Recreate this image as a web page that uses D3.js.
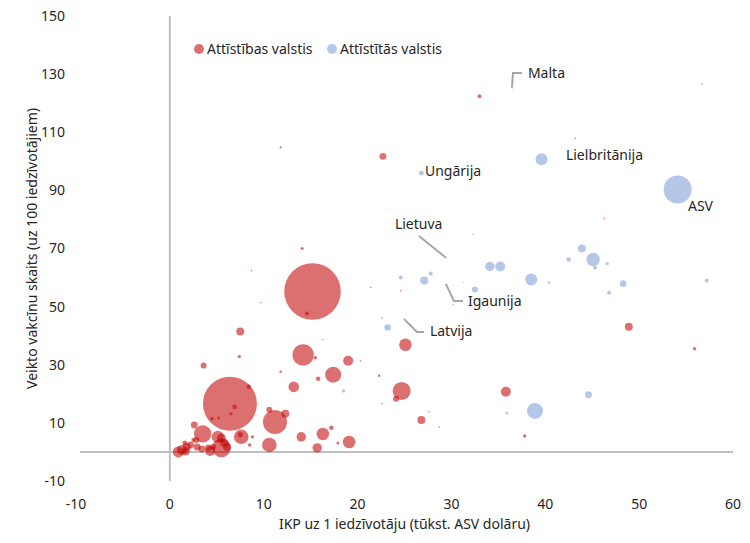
<!DOCTYPE html>
<html>
<head>
<meta charset="utf-8">
<script src="https://cdn.jsdelivr.net/npm/d3@7"></script>
<style>
body { margin: 0; background: #fff; }
text { font-family: "Noto Sans", sans-serif; fill: #262626; }
</style>
</head>
<body>
<div id="chart"></div>
<script>
const xTicks = [-10, 0, 10, 20, 30, 40, 50, 60];
const yTicks = [-10, 10, 30, 50, 70, 90, 110, 130, 150];
const seriesNames = ['Attīstības valstis', 'Attīstītās valstis'];

// developing countries: GDP per capita (k USD), doses per 100, population (mln)
const devGdp = [33.0, 11.8, 22.7, 15.2, 14.6, 14.1, 8.7, 9.7, 21.4, 16.3, 7.5, 7.4, 3.6, 14.2, 15.5, 19.0, 20.3, 17.4, 15.8, 13.2,
  11.8, 6.4, 8.4, 6.9, 6.5, 4.5, 5.2, 2.6, 3.5, 7.6, 8.8, 10.6, 11.2, 12.3, 10.6, 14.0, 16.3, 17.2, 15.7, 17.9,
  19.1, 25.1, 22.3, 24.7, 24.1, 22.6, 35.8, 26.8, 27.6, 28.7, 37.8, 48.9, 55.9, 56.7, 43.2, 46.3, 24.6,
  5.5, 0.9, 1.3, 1.8, 2.2, 2.9, 3.4, 4.1, 4.6, 5.1, 5.5, 5.8, 6.1, 7.5, 8.5, 2.5, 1.6, 1.7, 4.3, 2.8];
const devVacc = [122.4, 104.8, 101.7, 55.2, 47.6, 70.0, 62.4, 51.4, 56.6, 38.6, 41.4, 32.8, 29.7, 33.4, 32.4, 31.4, 31.4, 26.6, 25.2, 22.4,
  27.6, 16.6, 22.4, 15.5, 13.1, 11.4, 11.7, 9.3, 6.2, 5.2, 5.2, 14.5, 10.3, 13.1, 2.4, 5.2, 6.2, 8.3, 1.4, 3.1,
  3.4, 36.9, 26.2, 21.0, 18.3, 16.6, 20.7, 11.0, 13.8, 8.6, 5.5, 43.1, 35.5, 126.6, 107.9, 80.3, 55.5,
  1.4, 0.0, 0.7, 1.7, 2.4, 1.7, 1.0, 1.4, 1.7, 5.2, 4.8, 3.1, 1.7, 5.9, 2.4, 4.1, 3.1, 0.2, 0.3, 4.1];
const devPop = [7, 2, 21, 1400, 7, 4, 1, 1, 1, 1, 28, 5, 16, 200, 5, 44, 1, 112, 9, 49,
  3, 1274, 9, 9, 5, 5, 3, 21, 132, 93, 5, 16, 252, 28, 93, 39, 69, 9, 39, 4,
  69, 69, 3, 142, 16, 1, 44, 28, 1, 1, 5, 28, 5, 1, 1, 1, 1,
  151, 53, 44, 28, 21, 21, 21, 21, 16, 63, 35, 32, 28, 13, 5, 7, 11, 28, 44, 16];

// developed countries
const advGdp = [54.1, 39.6, 26.8, 43.9, 42.5, 45.1, 45.3, 46.6, 38.5, 40.4, 48.3, 46.8, 57.2, 29.4, 34.1, 35.2, 24.6, 27.1, 27.8,
  31.3, 32.5, 30.2, 32.3, 22.6, 23.2, 18.5, 35.9, 38.9, 44.6, 36.5];
const advVacc = [90.3, 100.7, 95.9, 70.0, 66.2, 66.2, 63.4, 64.8, 59.3, 58.3, 57.9, 54.8, 59.0, 66.9, 63.8, 63.8, 60.0, 59.0, 61.4,
  58.3, 55.9, 50.7, 74.8, 46.2, 42.8, 21.0, 13.4, 14.1, 19.7, 124.8];
const advPop = [343, 63, 10, 28, 9, 78, 7, 5, 63, 3, 19, 7, 7, 2.8, 39, 44, 7, 28, 7,
  1, 16, 1.3, 1, 1.9, 19, 5, 4, 112, 21, 0.5];

// country labels: text position and leader line in chart units
const labelNames = ['Malta', 'Lielbritānija', 'ASV', 'Ungārija', 'Lietuva', 'Igaunija', 'Latvija'];
const labelX = [38.15, 42.2, 55.2, 27.18, 23.98, 31.76, 27.71];
const labelY = [130.4, 102.2, 84.7, 96.7, 78.5, 51.9, 41.6];
const leaders = [
  [[36.45, 125.3], [36.56, 130.4], [37.51, 130.4]],
  [],
  [],
  [],
  [[26.54, 74.3], [29.31, 67.1]],
  [[29.41, 57.8], [30.27, 51.9], [31.23, 51.9]],
  [[24.94, 45.8], [26.32, 41.3], [27.07, 41.3]]
];

const width = 750;
const height = 543;
const colors = ['#C00000', '#4472C4'];
const opac = [0.56, 0.4];

const svg = d3.select('#chart')
  .append('svg')
  .attr('width', width)
  .attr('height', height);

const x = d3.scaleLinear().domain([-10, 60]).range([76, 733]);
const y = d3.scaleLinear().domain([-10, 150]).range([481, 16]);
const r = d3.scaleSqrt().domain([0, 1400]).range([0, 28.3]);

// axis lines crossing at zero
svg.append('line')
  .attr('x1', x(0)).attr('x2', x(0))
  .attr('y1', y(150)).attr('y2', y(-10))
  .attr('stroke', '#bfbfbf').attr('stroke-width', 2);
svg.append('line')
  .attr('x1', x(-10) + 4).attr('x2', x(60))
  .attr('y1', y(0)).attr('y2', y(0))
  .attr('stroke', '#bfbfbf').attr('stroke-width', 2);

svg.selectAll('.xtick')
  .data(xTicks)
  .enter().append('text')
  .attr('class', 'xtick')
  .attr('x', d => x(d))
  .attr('y', 504)
  .attr('dy', '0.35em')
  .attr('text-anchor', 'middle')
  .attr('font-size', '14px')
  .text(d => d);

svg.selectAll('.ytick')
  .data(yTicks)
  .enter().append('text')
  .attr('class', 'ytick')
  .attr('x', 65)
  .attr('y', d => y(d))
  .attr('dy', '0.35em')
  .attr('text-anchor', 'end')
  .attr('font-size', '14px')
  .text(d => d);

svg.append('text')
  .attr('x', (x(-10) + x(60)) / 2)
  .attr('y', 524)
  .attr('dy', '0.35em')
  .attr('text-anchor', 'middle')
  .attr('font-size', '14px')
  .text('IKP uz 1 iedzīvotāju (tūkst. ASV dolāru)');

svg.append('text')
  .attr('transform', `translate(32, ${(y(-10) + y(150)) / 2}) rotate(-90)`)
  .attr('dy', '0.35em')
  .attr('text-anchor', 'middle')
  .attr('font-size', '14px')
  .text('Veikto vakcīnu skaits (uz 100 iedzīvotājiem)');

const devData = devGdp.map((g, i) => ({ gdp: g, vacc: devVacc[i], pop: devPop[i] }));
const advData = advGdp.map((g, i) => ({ gdp: g, vacc: advVacc[i], pop: advPop[i] }));

[devData, advData].forEach((data, s) => {
  const sorted = data.slice().sort((a, b) => b.pop - a.pop);
  svg.append('g')
    .selectAll('circle')
    .data(sorted)
    .enter().append('circle')
    .attr('cx', d => x(d.gdp))
    .attr('cy', d => y(d.vacc))
    .attr('r', d => r(d.pop))
    .style('fill', colors[s])
    .style('fill-opacity', opac[s]);
});

// leader lines and labels
const line = d3.line().x(d => x(d[0])).y(d => y(d[1]));
svg.append('g')
  .selectAll('path')
  .data(leaders.filter(l => l.length))
  .enter().append('path')
  .attr('d', line)
  .attr('fill', 'none')
  .attr('stroke', '#a6a6a6')
  .attr('stroke-width', 2);

svg.append('g')
  .selectAll('text')
  .data(labelNames)
  .enter().append('text')
  .attr('x', (d, i) => x(labelX[i]))
  .attr('y', (d, i) => y(labelY[i]))
  .attr('dy', '0.35em')
  .attr('font-size', '14px')
  .text(d => d);

// legend
const legend = svg.append('g')
  .selectAll('g')
  .data(seriesNames)
  .enter().append('g')
  .attr('transform', (d, i) => `translate(${i ? 332 : 199}, 49)`);

legend.append('circle')
  .attr('r', 5)
  .style('fill', (d, i) => colors[i])
  .style('fill-opacity', (d, i) => opac[i]);

legend.append('text')
  .attr('x', 8)
  .attr('dy', '0.35em')
  .attr('font-size', '14px')
  .text(d => d);
</script>
</body>
</html>
